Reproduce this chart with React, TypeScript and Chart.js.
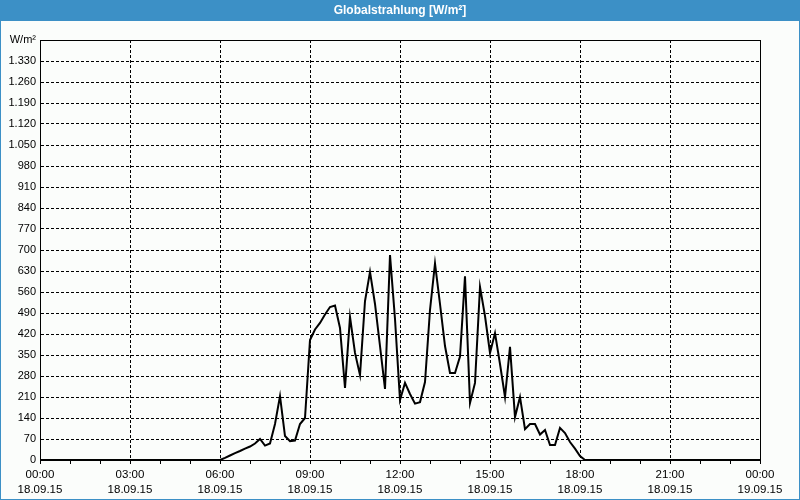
import React, { useEffect, useRef } from "react";
import { Chart, registerables } from "chart.js";

Chart.register(...registerables);

const chartTitle = "Globalstrahlung [W/m²]";
const unitLabel = "W/m²";

const times = [
  "00:00",
  "06:00", "06:10", "06:20", "06:30", "06:40", "06:50",
  "07:00", "07:10", "07:20", "07:30", "07:40", "07:50",
  "08:00", "08:10", "08:20", "08:30", "08:40", "08:50",
  "09:00", "09:10", "09:20", "09:30", "09:40", "09:50",
  "10:00", "10:10", "10:20", "10:30", "10:40", "10:50",
  "11:00", "11:10", "11:20", "11:30", "11:40", "11:50",
  "12:00", "12:10", "12:20", "12:30", "12:40", "12:50",
  "13:00", "13:10", "13:20", "13:30", "13:40", "13:50",
  "14:00", "14:10", "14:20", "14:30", "14:40", "14:50",
  "15:00", "15:10", "15:20", "15:30", "15:40", "15:50",
  "16:00", "16:10", "16:20", "16:30", "16:40", "16:50",
  "17:00", "17:10", "17:20", "17:30", "17:40", "17:50",
  "18:00", "18:10",
  "24:00",
];

const values = [
  0,
  0, 7, 15, 23, 30, 38,
  45, 55, 70, 48, 55, 120,
  213, 80, 63, 65, 120, 140,
  400, 435, 457, 485, 510, 515,
  440, 240, 477, 357, 283, 530,
  627, 520, 380, 237, 683, 470,
  200, 257, 220, 188, 193, 260,
  500, 655, 520, 380, 290, 290,
  345, 612, 190, 257, 577, 480,
  357, 423, 320, 210, 377, 143,
  210, 103, 120, 120, 85, 100,
  50, 50, 107, 90, 60, 38,
  13, 0,
  0,
];

const xTickLabels = ["00:00", "03:00", "06:00", "09:00", "12:00", "15:00", "18:00", "21:00", "00:00"];
const xTickDates = ["18.09.15", "18.09.15", "18.09.15", "18.09.15", "18.09.15", "18.09.15", "18.09.15", "18.09.15", "19.09.15"];

const Y_MAX = 1400;
const Y_STEP = 70;

function toHours(t: string): number {
  const [h, m] = t.split(":").map(Number);
  return h + m / 60;
}

function formatDe(v: number): string {
  const s = String(Math.round(v));
  return s.replace(/\B(?=(\d{3})+(?!\d))/g, ".");
}

const BLUE = "#3c90c6";
const BG = "#fbfdfb";
const FONT = "'Liberation Sans', Arial, sans-serif";

const framePlugin = {
  id: "framePlugin",
  beforeDraw(chart: any) {
    const { ctx, width, height } = chart;
    ctx.save();
    ctx.fillStyle = BG;
    ctx.fillRect(0, 0, width, height);
    ctx.fillStyle = BLUE;
    ctx.fillRect(0, 0, width, 21);
    ctx.strokeStyle = BLUE;
    ctx.lineWidth = 1;
    ctx.strokeRect(0.5, 0.5, width - 1, height - 1);
    ctx.fillStyle = "#ffffff";
    ctx.font = "bold 12px " + FONT;
    ctx.textAlign = "center";
    ctx.textBaseline = "middle";
    ctx.fillText(chartTitle, width / 2, 11);
    ctx.restore();
  },
  beforeDatasetsDraw(chart: any) {
    const { ctx, chartArea } = chart;
    ctx.save();
    ctx.strokeStyle = "#000";
    ctx.lineWidth = 1;
    ctx.setLineDash([]);
    ctx.strokeRect(
      Math.round(chartArea.left) + 0.5,
      Math.round(chartArea.top) + 0.5,
      Math.round(chartArea.right - chartArea.left),
      Math.round(chartArea.bottom - chartArea.top)
    );
    ctx.restore();
  },
};

export default function App() {
  const canvasRef = useRef<HTMLCanvasElement | null>(null);

  useEffect(() => {
    const canvas = canvasRef.current;
    if (!canvas) return;
    const points = times.map((t, i) => ({ x: toHours(t), y: values[i] }));
    const chart = new Chart(canvas, {
      type: "line",
      data: {
        datasets: [
          {
            data: points,
            borderColor: "#000",
            borderWidth: 2,
            pointRadius: 0,
            tension: 0,
            fill: false,
          },
        ],
      },
      plugins: [framePlugin],
      options: {
        responsive: false,
        animation: false,
        devicePixelRatio: 1,
        layout: { padding: { top: 40, right: 40, bottom: 0, left: 0 } },
        plugins: {
          legend: { display: false },
          title: { display: false },
          tooltip: { enabled: false },
        },
        scales: {
          x: {
            type: "linear",
            min: 0,
            max: 24,
            afterFit(scale: any) {
              scale.height = 40;
            },
            ticks: {
              stepSize: 1,
              autoSkip: false,
              maxRotation: 0,
              minRotation: 0,
              padding: 3,
              color: "#000",
              font: { family: FONT, size: 11.5, lineHeight: 1.35 },
              callback(value: any) {
                const v = Number(value);
                if (v % 3 !== 0) return "";
                const idx = v / 3;
                return [xTickLabels[idx], xTickDates[idx]];
              },
            },
            grid: {
              drawTicks: true,
              tickLength: 4,
              tickColor: "#000",
              tickWidth: 1,
              color(ctx: any) {
                const v = ctx.tick ? ctx.tick.value : 0;
                return v % 3 === 0 ? "#000" : "rgba(0,0,0,0)";
              },
              lineWidth: 1,
            },
            border: { display: true, color: "#000", width: 1, dash: [3, 2] },
          },
          y: {
            min: 0,
            max: Y_MAX,
            afterFit(scale: any) {
              scale.width = 40;
            },
            ticks: {
              stepSize: Y_STEP,
              autoSkip: false,
              padding: 4,
              color: "#000",
              font: { family: FONT, size: 11 },
              callback(value: any) {
                const v = Number(value);
                if (v === Y_MAX) return unitLabel;
                return formatDe(v);
              },
            },
            grid: {
              drawTicks: false,
              color: "#000",
              lineWidth: 1,
            },
            border: { display: true, color: "#000", width: 1, dash: [3, 2] },
          },
        },
      },
    });
    return () => chart.destroy();
  }, []);

  return (
    <div style={{ position: "fixed", left: 0, top: 0, width: 800, height: 500 }}>
      <canvas ref={canvasRef} width={800} height={500} style={{ display: "block" }} />
    </div>
  );
}
